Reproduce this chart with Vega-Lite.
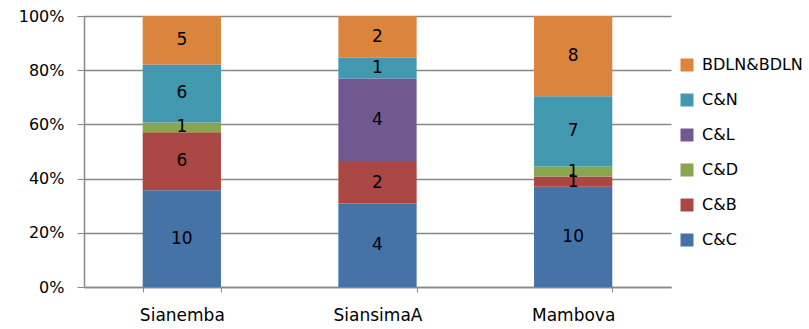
{
  "$schema": "https://vega.github.io/schema/vega-lite/v6.json",
  "autosize": {"type": "none"},
  "width": 587,
  "height": 271,
  "padding": {"left": 84, "top": 16, "right": 138, "bottom": 42},
  "background": "white",
  "data": {"values": [
    {"site": "Sianemba", "pair": "C&C", "n": 10, "k": 1},
    {"site": "Sianemba", "pair": "C&B", "n": 6, "k": 2},
    {"site": "Sianemba", "pair": "C&D", "n": 1, "k": 3},
    {"site": "Sianemba", "pair": "C&N", "n": 6, "k": 5},
    {"site": "Sianemba", "pair": "BDLN&BDLN", "n": 5, "k": 6},
    {"site": "SiansimaA", "pair": "C&C", "n": 4, "k": 1},
    {"site": "SiansimaA", "pair": "C&B", "n": 2, "k": 2},
    {"site": "SiansimaA", "pair": "C&L", "n": 4, "k": 4},
    {"site": "SiansimaA", "pair": "C&N", "n": 1, "k": 5},
    {"site": "SiansimaA", "pair": "BDLN&BDLN", "n": 2, "k": 6},
    {"site": "Mambova", "pair": "C&C", "n": 10, "k": 1},
    {"site": "Mambova", "pair": "C&B", "n": 1, "k": 2},
    {"site": "Mambova", "pair": "C&D", "n": 1, "k": 3},
    {"site": "Mambova", "pair": "C&N", "n": 7, "k": 5},
    {"site": "Mambova", "pair": "BDLN&BDLN", "n": 8, "k": 6}
  ]},
  "transform": [
    {"stack": "n", "groupby": ["site"], "sort": [{"field": "k", "order": "ascending"}], "offset": "normalize", "as": ["y0", "y1"]},
    {"calculate": "(datum.y0 + datum.y1) / 2", "as": "ymid"}
  ],
  "encoding": {
    "x": {
      "field": "site", "type": "nominal", "sort": ["Sianemba", "SiansimaA", "Mambova"],
      "scale": {"paddingInner": 0.6, "paddingOuter": 0.3},
      "axis": {
        "title": null, "labelAngle": 0, "tickBand": "extent", "tickSize": 5,
        "domainColor": "#888888", "tickColor": "#888888", "domainWidth": 1.5, "labelPadding": 15,
        "labelFont": "DejaVu Sans", "labelFontSize": 17, "labelColor": "#000000", "grid": false
      }
    }
  },
  "layer": [
    {
      "mark": {"type": "bar"},
      "encoding": {
        "y": {
          "field": "y1", "type": "quantitative", "scale": {"domain": [0, 1]},
          "axis": {
            "title": null, "format": ".0%", "values": [0, 0.2, 0.4, 0.6, 0.8, 1], "labelOverlap": false,
            "grid": true, "gridColor": "#888888", "gridWidth": 1.5, "domainColor": "#888888", "domainWidth": 1.5, "tickColor": "#888888",
            "tickSize": 7, "labelPadding": 13, "labelFont": "DejaVu Sans", "labelFontSize": 16, "labelColor": "#000000"
          }
        },
        "y2": {"field": "y0"},
        "color": {
          "field": "pair", "type": "nominal",
          "scale": {
            "domain": ["BDLN&BDLN", "C&N", "C&L", "C&D", "C&B", "C&C"],
            "range": ["#DB843D", "#4198AF", "#71588F", "#89A54E", "#AA4643", "#4572A7"]
          },
          "legend": {
            "title": null, "orient": "none", "legendX": 595, "legendY": 41,
            "symbolType": "square", "symbolSize": 169, "symbolStrokeWidth": 0,
            "labelFont": "DejaVu Sans", "labelFontSize": 16, "labelColor": "#000000",
            "rowPadding": 19, "labelOffset": 7
          }
        }
      }
    },
    {
      "mark": {"type": "text", "font": "DejaVu Sans", "fontSize": 17, "color": "#000000", "baseline": "middle"},
      "encoding": {
        "y": {"field": "ymid", "type": "quantitative"},
        "text": {"field": "n", "type": "quantitative"}
      }
    }
  ],
  "config": {"view": {"stroke": null}}
}
